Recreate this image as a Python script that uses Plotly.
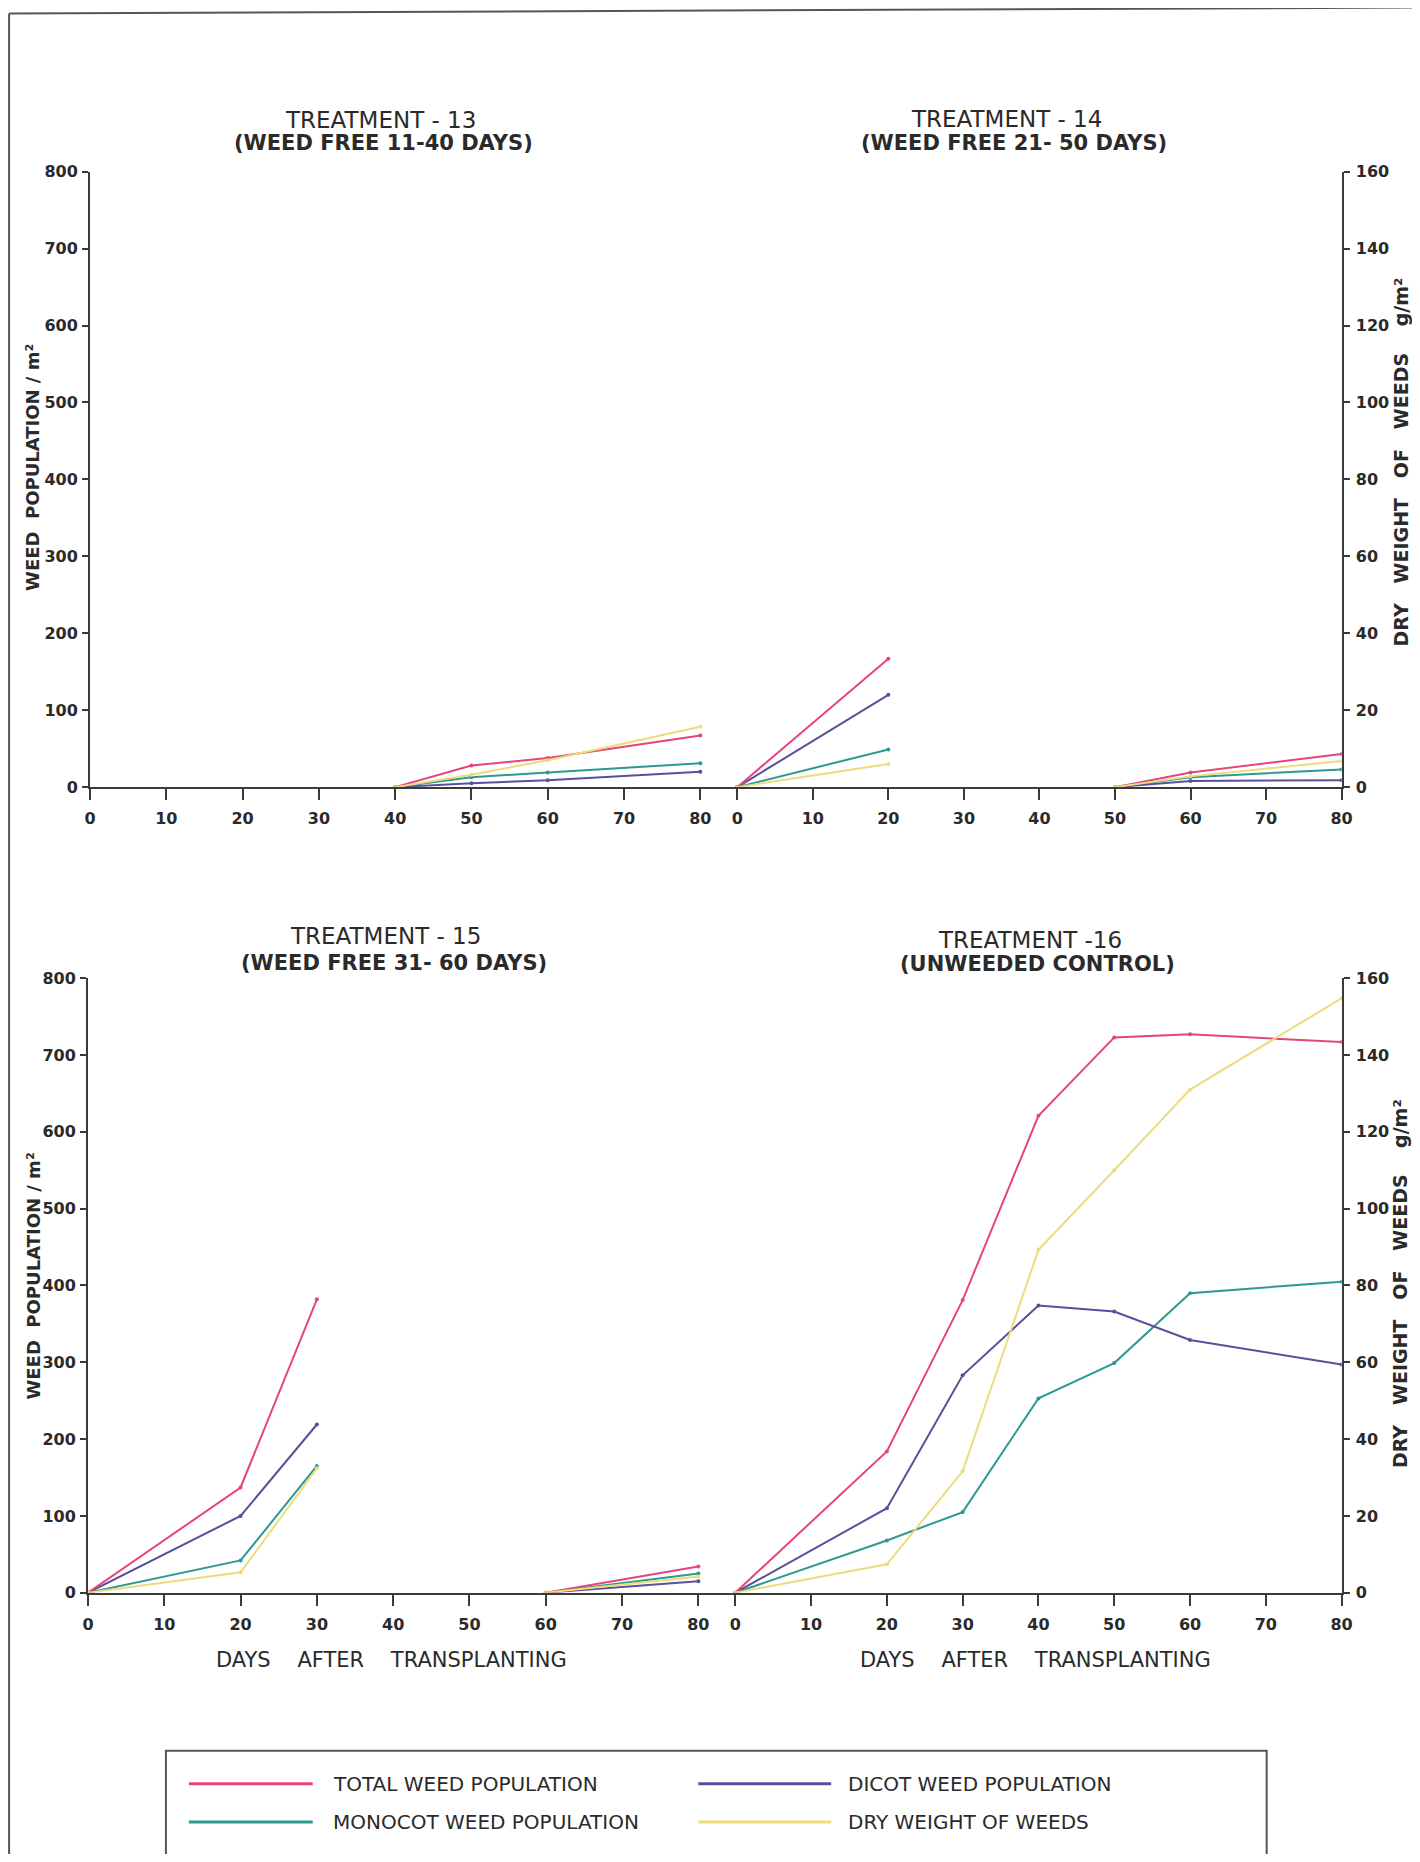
import plotly.graph_objects as go

# ---------------- data ----------------
series_names = ["TOTAL WEED POPULATION", "DICOT WEED POPULATION",
                "MONOCOT WEED POPULATION", "DRY WEIGHT OF WEEDS"]
series_colors = ["#e5447c", "#5a4f9c", "#2f9890", "#ecdc7c"]

x_ticks = [0, 10, 20, 30, 40, 50, 60, 70, 80]
pop_ticks = [0, 100, 200, 300, 400, 500, 600, 700, 800]
dry_ticks = [0, 20, 40, 60, 80, 100, 120, 140, 160]

# Treatment 13 (weed free 11-40 days)
t13_days = [40, 50, 60, 80]
t13_total = [0, 28, 38, 67]
t13_dicot = [0, 5, 9, 20]
t13_monocot = [0, 13, 19, 31]
t13_dry = [0, 3.2, 7.0, 15.7]

# Treatment 14 (weed free 21-50 days)
t14_days = [0, 20, None, 50, 60, 80]
t14_total = [0, 167, None, 0, 19, 43]
t14_dicot = [0, 120, None, 0, 8, 9]
t14_monocot = [0, 49, None, 0, 13, 23]
t14_dry = [0, 6.0, None, 0, 2.8, 6.8]

# Treatment 15 (weed free 31-60 days)
t15_days = [0, 20, 30, None, 60, 80]
t15_total = [0, 137, 382, None, 0, 34]
t15_dicot = [0, 100, 219, None, 0, 15]
t15_monocot = [0, 42, 165, None, 0, 25]
t15_dry = [0, 5.3, 32.4, None, 0, 4.2]

# Treatment 16 (unweeded control)
t16_days = [0, 20, 30, 40, 50, 60, 80]
t16_total = [0, 184, 381, 621, 723, 727, 717]
t16_dicot = [0, 110, 283, 374, 366, 329, 297]
t16_monocot = [0, 68, 105, 253, 299, 390, 405]
t16_dry = [0, 7.4, 31.6, 89.3, 110, 131, 154.8]

titles = ["TREATMENT - 13", "TREATMENT - 14", "TREATMENT - 15", "TREATMENT -16"]
subtitles = ["(WEED FREE 11-40 DAYS)", "(WEED FREE 21- 50 DAYS)",
             "(WEED FREE 31- 60 DAYS)", "(UNWEEDED CONTROL)"]

# ---------------- layout helpers ----------------
# the page body keeps its default 8px margin, so the figure is sized to fit;
# positions below are target picture coordinates, mapped to the figure
OFF = 8
W, H = 1404, 1846
SC, DX, DY = 0.989, 5.0, 9.5


def px(x):
    return ((x - DX) / SC - OFF) / W


def py(y):
    return 1 - ((y - DY) / SC - OFF) / H


INK = "#3a3a3a"
FONT = "DejaVu Sans"

fig = go.Figure()

panels = [
    (t13_days, [t13_total, t13_dicot, t13_monocot], t13_dry, "x", "y", "y5"),
    (t14_days, [t14_total, t14_dicot, t14_monocot], t14_dry, "x2", "y2", "y6"),
    (t15_days, [t15_total, t15_dicot, t15_monocot], t15_dry, "x3", "y3", "y7"),
    (t16_days, [t16_total, t16_dicot, t16_monocot], t16_dry, "x4", "y4", "y8"),
]

for days, pops, dry, xa, ya, ya_dry in panels:
    # dry weight (secondary axis, g/m2)
    fig.add_trace(go.Scatter(
        x=days, y=dry, xaxis=xa, yaxis=ya_dry, mode="lines+markers",
        line=dict(color=series_colors[3], width=2),
        marker=dict(size=4, color=series_colors[3]),
        name=series_names[3], showlegend=False, hoverinfo="x+y"))
    for k in [2, 1, 0]:
        fig.add_trace(go.Scatter(
            x=days, y=pops[k], xaxis=xa, yaxis=ya, mode="lines+markers",
            line=dict(color=series_colors[k], width=2),
            marker=dict(size=4, color=series_colors[k]),
            name=series_names[k], showlegend=False, hoverinfo="x+y"))

tickfont = dict(family=FONT, size=16, color="#2a2a2a", weight="bold")

xcommon = dict(showline=True, linecolor=INK, linewidth=2, ticks="outside",
               ticklen=11, tickwidth=2, tickcolor=INK, tickvals=x_ticks,
               tickfont=tickfont, showgrid=False, zeroline=False,
               ticklabelstandoff=5, fixedrange=True)
ypop = dict(showline=True, linecolor=INK, linewidth=2, ticks="outside",
            ticklen=6, tickwidth=2, tickcolor=INK, tickvals=pop_ticks,
            tickfont=tickfont, showgrid=False, zeroline=False,
            range=[0, 800], ticklabelstandoff=1)
ydry = dict(showline=True, linecolor=INK, linewidth=2, ticks="outside",
            ticklen=6, tickwidth=2, tickcolor=INK, tickvals=dry_ticks,
            tickfont=tickfont, showgrid=False, zeroline=False,
            range=[0, 160], side="right", ticklabelstandoff=3)

top_dom = [py(787), py(172)]
bot_dom = [py(1592), py(978)]


def xr_left(x0, x80, xend):
    return [0, 80 * (xend - x0) / (x80 - x0)]


def xr_right(xstart, x0, x80):
    return [-(x0 - xstart) * 80 / (x80 - x0), 80]


fig.update_layout(
    width=W, height=H, autosize=False,
    margin=dict(l=0, r=0, t=0, b=0),
    paper_bgcolor="white", plot_bgcolor="rgba(0,0,0,0)",
    showlegend=False,
    xaxis=dict(xcommon, domain=[px(89), px(719)], range=xr_left(89, 700, 719), anchor="y"),
    xaxis2=dict(xcommon, domain=[px(719), px(1342)], range=xr_right(719, 737, 1342), anchor="y2"),
    xaxis3=dict(xcommon, domain=[px(87), px(717)], range=xr_left(87, 698, 717), anchor="y3"),
    xaxis4=dict(xcommon, domain=[px(717), px(1342)], range=xr_right(717, 735, 1342), anchor="y4"),
    yaxis=dict(ypop, domain=top_dom, anchor="x"),
    yaxis2=dict(domain=top_dom, anchor="x2", range=[0, 800], visible=False),
    yaxis3=dict(ypop, domain=bot_dom, anchor="x3"),
    yaxis4=dict(domain=bot_dom, anchor="x4", range=[0, 800], visible=False),
    yaxis5=dict(overlaying="y", anchor="x", range=[0, 160], visible=False),
    yaxis6=dict(ydry, overlaying="y2", anchor="x2"),
    yaxis7=dict(overlaying="y3", anchor="x3", range=[0, 160], visible=False),
    yaxis8=dict(ydry, overlaying="y4", anchor="x4"),
)

ann = []


def text(x, y, s, size, angle=0, weight="normal"):
    ann.append(dict(x=px(x), y=py(y), xref="paper", yref="paper", text=s,
                    showarrow=False, xanchor="center", yanchor="middle",
                    textangle=angle,
                    font=dict(family=FONT, size=size, color="#2a2a2a", weight=weight)))


# panel titles
title_pos = [(380, 120, 383, 143), (1007, 119, 1014, 143),
             (385, 936, 393, 963), (1030, 940, 1038, 964)]
for (tx, ty, sx, sy), t, s in zip(title_pos, titles, subtitles):
    text(tx, ty, t, 23)
    text(sx, sy, s, 21, weight="bold")

# axis titles
text(32, 468, "WEED  POPULATION / m²", 18, angle=-90, weight="bold")
text(32, 1276, "WEED  POPULATION / m²", 18, angle=-90, weight="bold")
text(1401, 462, "DRY   WEIGHT   OF   WEEDS    g/m²", 19, angle=-90, weight="bold")
text(1401, 1283, "DRY   WEIGHT   OF   WEEDS    g/m²", 19, angle=-90, weight="bold")
text(391, 1659, "DAYS    AFTER    TRANSPLANTING", 21)
text(1036, 1659, "DAYS    AFTER    TRANSPLANTING", 21)

shapes = []
# page border
shapes.append(dict(type="line", xref="paper", yref="paper", x0=px(8), x1=px(8), y0=py(14), y1=py(1880),
                   line=dict(color="#555", width=2)))
shapes.append(dict(type="line", xref="paper", yref="paper", x0=px(8), x1=px(1417), y0=py(14), y1=py(8),
                   line=dict(color="#555", width=2)))
shapes.append(dict(type="line", xref="paper", yref="paper", x0=px(1417), x1=px(1417), y0=py(8), y1=py(1880),
                   line=dict(color="#777", width=2)))

# legend box
shapes.append(dict(type="rect", xref="paper", yref="paper", x0=px(165), x1=px(1267), y0=py(1859), y1=py(1750),
                   line=dict(color="#555", width=2), fillcolor="rgba(0,0,0,0)"))
legend_slots = [(188, 312, 330, 1783), (698, 831, 846, 1783),
                (188, 312, 330, 1821), (698, 831, 846, 1821)]
for (lx0, lx1, tx, ly), name, col in zip(legend_slots, series_names, series_colors):
    shapes.append(dict(type="line", xref="paper", yref="paper", x0=px(lx0), x1=px(lx1),
                       y0=py(ly), y1=py(ly), line=dict(color=col, width=3)))
    ann.append(dict(x=px(tx), y=py(ly), xref="paper", yref="paper", text=name,
                    showarrow=False, xanchor="left", yanchor="middle",
                    font=dict(family=FONT, size=20, color="#2a2a2a")))

fig.update_layout(annotations=ann, shapes=shapes)

fig.write_html("out.html")
